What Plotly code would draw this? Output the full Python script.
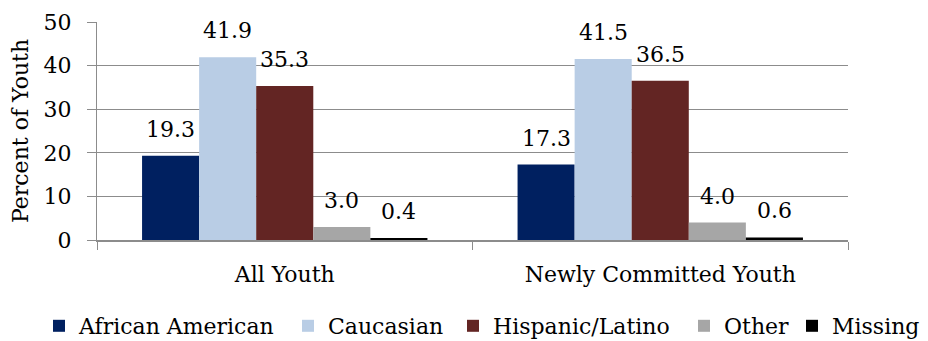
import plotly.graph_objects as go

categories = ["All Youth", "Newly Committed Youth"]
series_names = ["African American", "Caucasian", "Hispanic/Latino", "Other", "Missing"]
african_american = [19.3, 17.3]
caucasian = [41.9, 41.5]
hispanic_latino = [35.3, 36.5]
other = [3.0, 4.0]
missing = [0.4, 0.6]
values = [african_american, caucasian, hispanic_latino, other, missing]
colors = ["#002060", "#B9CDE5", "#632523", "#A6A6A6", "#000000"]

FONT = "DejaVu Serif"
FS = 22
W, H = 928, 341
ML, MR, MT, MB = 97, 80, 22, 101
BARGAP = 0.24
legend_left_px = [39, 288, 453, 684, 792]   # legend box left edges (pixels)

legend_ids = ["legend"] + [f"legend{k}" for k in range(2, len(series_names) + 1)]

fig = go.Figure()
for name, vals, col, lg in zip(series_names, values, colors, legend_ids):
    fig.add_trace(go.Bar(
        x=categories, y=vals, name=name, legend=lg,
        marker=dict(color=col, line=dict(width=0)),
    ))

# data labels placed above bars with a gap, like the original
plot_w = W - ML - MR
plot_h = H - MT - MB
cat_w = plot_w / len(categories)
bar_w = cat_w * (1 - BARGAP) / len(series_names)
for i, vals in enumerate(values):
    shift = (i - (len(series_names) - 1) / 2) * bar_w
    for c, v in zip(categories, vals):
        fig.add_annotation(
            x=c, y=v, xref="x", yref="y", text=f"{v:.1f}", showarrow=False,
            xshift=shift, yanchor="bottom", yshift=12,
            font=dict(family=FONT, size=FS, color="#000000"),
        )

legend_y = -(326 - (H - MB)) / plot_h
legends = {}
for lg, px in zip(legend_ids, legend_left_px):
    legends[lg] = dict(orientation="h", yanchor="middle", y=legend_y, xanchor="left",
                       x=(px - ML) / plot_w,
                       font=dict(family=FONT, size=FS, color="#000000"), itemwidth=30,
                       bgcolor="rgba(0,0,0,0)")

fig.update_layout(
    width=W, height=H,
    margin=dict(l=ML, r=MR, t=MT, b=MB, autoexpand=False),
    barmode="group", bargap=BARGAP, bargroupgap=0,
    plot_bgcolor="white", paper_bgcolor="white",
    font=dict(family=FONT, size=FS, color="#000000"),
    showlegend=True,
    **legends,
)
fig.update_yaxes(
    range=[0, 50], dtick=10, showgrid=True, gridcolor="#8C8C8C", gridwidth=1,
    showline=True, linecolor="#8C8C8C", linewidth=1,
    ticks="outside", ticklen=9, tickcolor="#8C8C8C", ticklabelstandoff=11,
    tickfont=dict(family=FONT, size=FS),
    title=dict(text="Percent of Youth", font=dict(family=FONT, size=FS), standoff=8),
    zeroline=False,
)
fig.update_xaxes(
    showline=True, linecolor="#8C8C8C", linewidth=2,
    ticks="outside", tickson="boundaries", ticklen=8, tickcolor="#8C8C8C",
    tickfont=dict(family=FONT, size=FS), ticklabelstandoff=14,
    showgrid=False,
)

fig.write_html("out.html")
